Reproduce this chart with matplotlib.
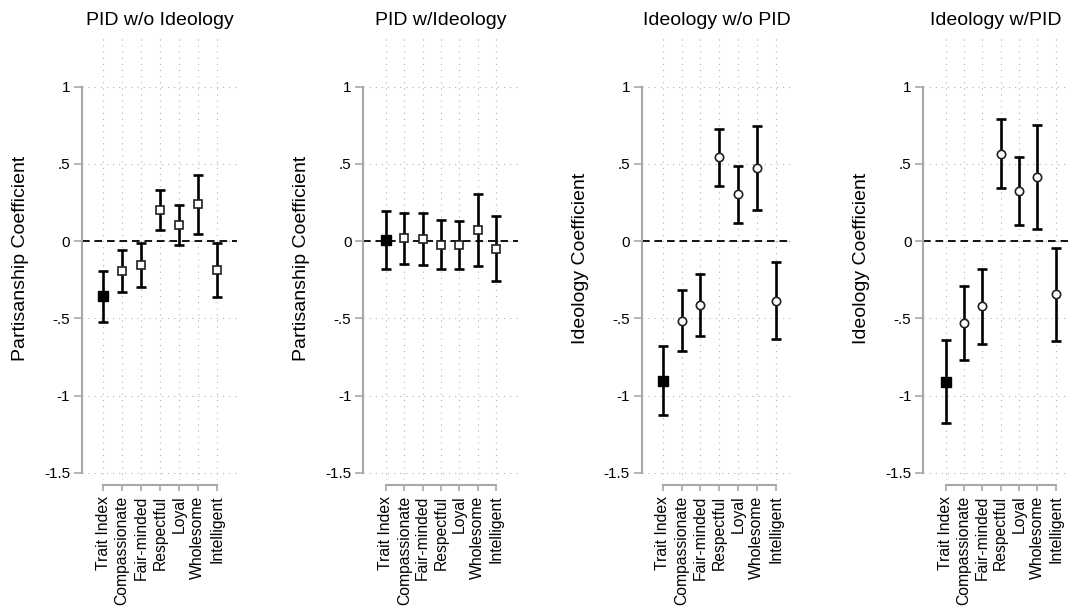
import matplotlib
matplotlib.use("Agg")
import matplotlib.pyplot as plt
import numpy as np

plt.rcParams['font.family'] = ['Liberation Sans', 'DejaVu Sans']
plt.rcParams['lines.scale_dashes'] = False

# --- data ---
traits = ["Trait Index", "Compassionate", "Fair-minded", "Respectful",
          "Loyal", "Wholesome", "Intelligent"]

pid_noideo_est = [-0.353, -0.194, -0.155, 0.200, 0.103, 0.239, -0.190]
pid_noideo_lo = [-0.522, -0.332, -0.295, 0.069, -0.024, 0.047, -0.362]
pid_noideo_hi = [-0.196, -0.056, -0.013, 0.334, 0.231, 0.429, -0.015]

pid_ideo_est = [0.004, 0.019, 0.013, -0.026, -0.026, 0.073, -0.052]
pid_ideo_lo = [-0.183, -0.147, -0.155, -0.181, -0.181, -0.159, -0.261]
pid_ideo_hi = [0.196, 0.185, 0.185, 0.134, 0.129, 0.306, 0.162]

ideo_nopid_est = [-0.905, -0.517, -0.414, 0.543, 0.302, 0.474, -0.386]
ideo_nopid_lo = [-1.127, -0.713, -0.612, 0.358, 0.119, 0.200, -0.636]
ideo_nopid_hi = [-0.681, -0.319, -0.216, 0.726, 0.485, 0.748, -0.138]

ideo_pid_est = [-0.912, -0.530, -0.420, 0.565, 0.325, 0.416, -0.345]
ideo_pid_lo = [-1.181, -0.767, -0.666, 0.343, 0.103, 0.080, -0.649]
ideo_pid_hi = [-0.638, -0.293, -0.179, 0.789, 0.547, 0.754, -0.043]

yticks = [1, 0.5, 0, -0.5, -1, -1.5]
ytick_labels = ["1", ".5", "0", "-.5", "-1", "-1.5"]

panels = [
    ("PID w/o Ideology", "Partisanship Coefficient", pid_noideo_est, pid_noideo_lo, pid_noideo_hi, "s"),
    ("PID w/Ideology", "Partisanship Coefficient", pid_ideo_est, pid_ideo_lo, pid_ideo_hi, "s"),
    ("Ideology w/o PID", "Ideology Coefficient", ideo_nopid_est, ideo_nopid_lo, ideo_nopid_hi, "o"),
    ("Ideology w/PID", "Ideology Coefficient", ideo_pid_est, ideo_pid_lo, ideo_pid_hi, "o"),
]

# layout in pixels: (left, right, first tick, last tick)
W, H = 1068, 609
boxes = [(82, 237, 103.3, 216.7),
         (363.3, 518, 386, 496),
         (641.7, 792, 662.7, 775.7),
         (923.3, 1068, 945.7, 1055.7)]
top_px, bot_px = 37, 480
y1_px, ylo_px = 86.7, 472.7
ppu = (ylo_px - y1_px) / 2.5
ylim = (-1.5 - (bot_px - ylo_px) / ppu, 1 + (y1_px - top_px) / ppu)

fig = plt.figure(figsize=(W / 100, H / 100), dpi=100)
grey = "#a8a8a8"
x = np.arange(len(traits))

for (title, ylab, est, lo, hi, mk), (l, r, f, la) in zip(panels, boxes):
    ax = fig.add_axes([l / W, (H - bot_px) / H, (r - l) / W, (bot_px - top_px) / H])

    # spines first (set_position resets tick labels)
    for s in ["top", "right"]:
        ax.spines[s].set_visible(False)
    ax.spines["bottom"].set_position(("outward", 3.6))
    for s in ["left", "bottom"]:
        ax.spines[s].set_color(grey)
        ax.spines[s].set_linewidth(1.5)

    sp = (la - f) / 6
    ax.set_xlim(-(f - l) / sp, 6 + (r - la) / sp)
    ax.set_ylim(*ylim)

    est = np.array(est)
    lo = np.array(lo)
    hi = np.array(hi)

    ax.axhline(0, color="black", lw=1.3, ls=(0, (5.5, 3.5)), zorder=2)
    ax.errorbar(x, est, yerr=[est - lo, hi - est], fmt="none", ecolor="black",
                elinewidth=1.9, capsize=3.6, capthick=1.9, zorder=3)
    ax.plot(x[1:], est[1:], ls="none", marker=mk, ms=5.8 if mk == "s" else 6,
            mfc="white", mec="#202020", mew=1.2, zorder=4)
    ax.plot(x[:1], est[:1], ls="none", marker="s", ms=7,
            mfc="black", mec="black", zorder=4)

    ax.set_yticks(yticks)
    ax.set_yticklabels(ytick_labels, fontsize=11)
    ax.set_xticks(x)
    ax.set_xticklabels(traits, rotation=90, fontsize=11.3, va="top", ha="center")

    ax.spines["left"].set_bounds(-1.5, 1)
    ax.spines["bottom"].set_bounds(0, 6)

    ax.grid(True, color="#b0b0b0", lw=0.8, ls=(0, (0.8, 3.6)))
    ax.set_axisbelow(True)

    ax.tick_params(axis="y", colors=grey, labelcolor="black", length=5.5, width=1.2, pad=3)
    ax.tick_params(axis="x", colors=grey, labelcolor="black", length=4, width=1.2, pad=3.8)

    ax.set_title(title, fontsize=14, pad=8.5)
    ax.set_ylabel(ylab, fontsize=14)
    ax.yaxis.set_label_coords(-53 / (r - l), 0.5)

fig.savefig("out.png", dpi=100, facecolor="white")
